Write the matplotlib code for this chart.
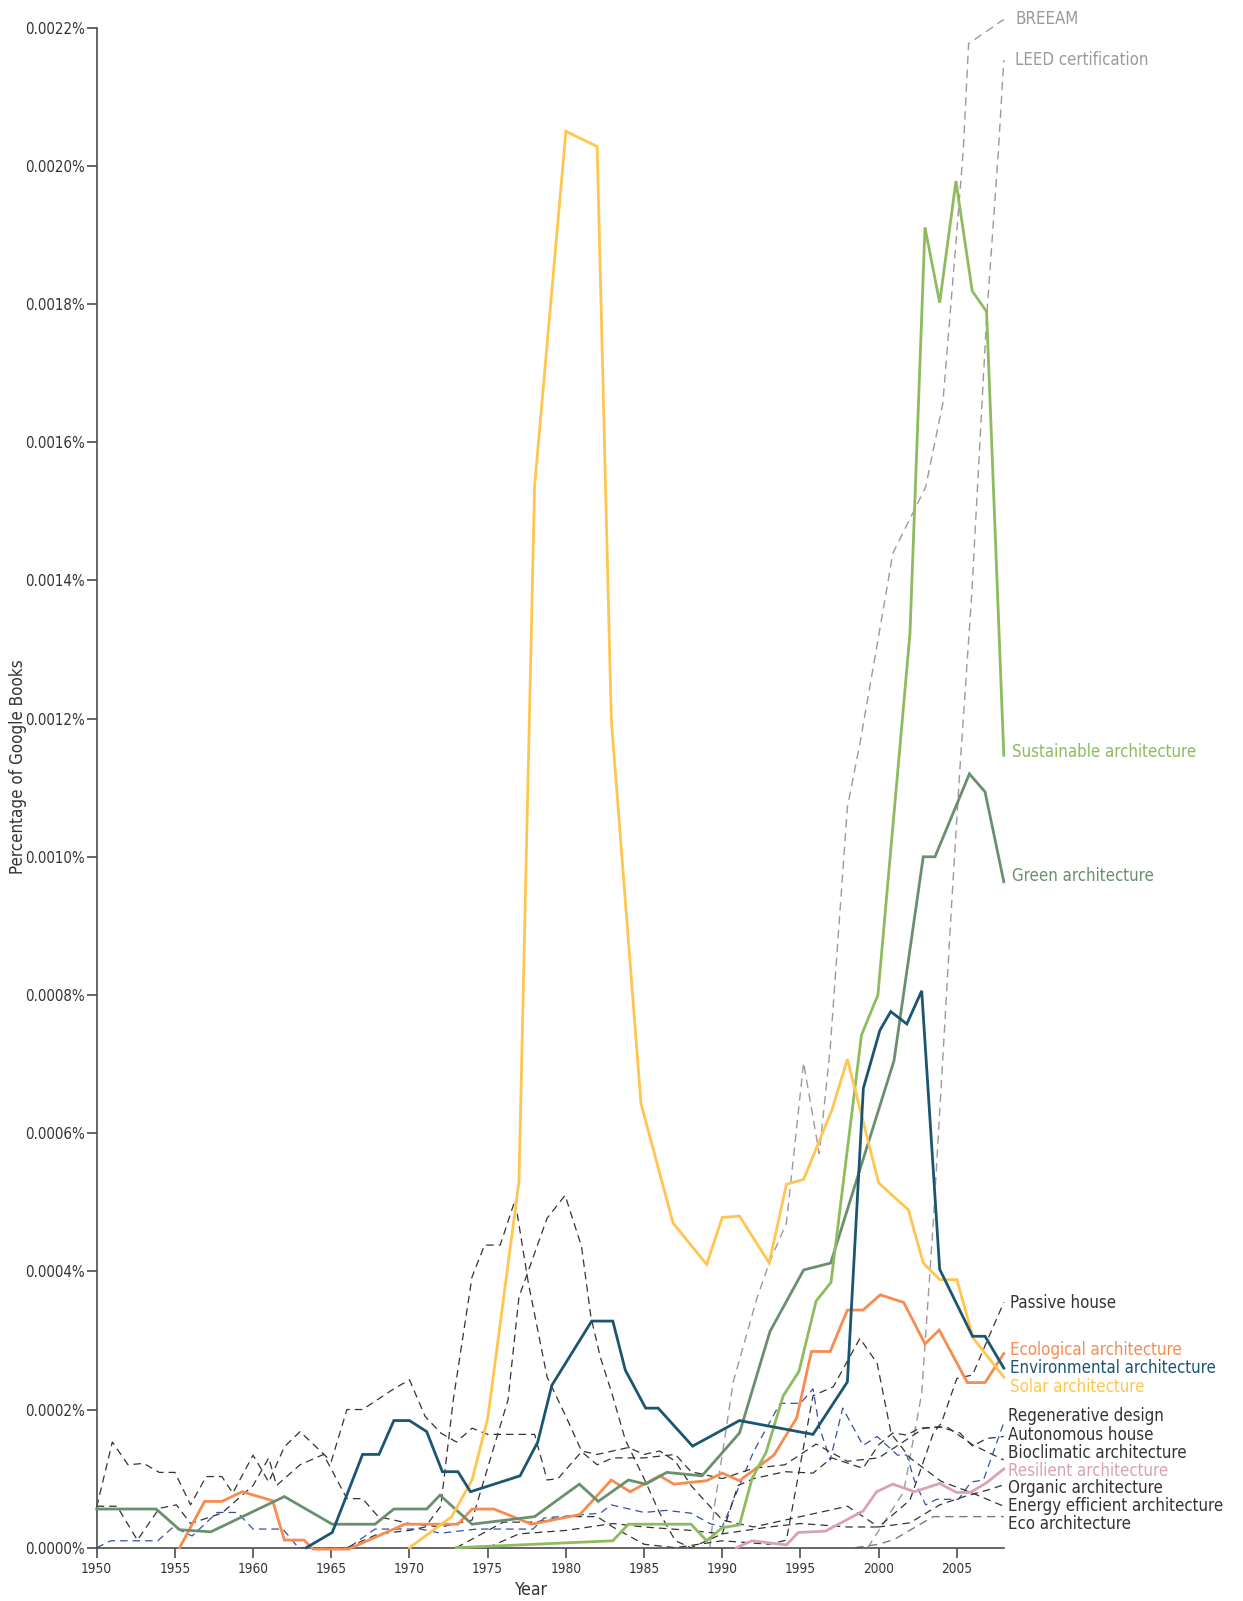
import matplotlib
matplotlib.use("Agg")
import matplotlib.pyplot as plt
from matplotlib import font_manager as fm

# ---- font choice: prefer an installed narrow / condensed sans face ----
def _is_regular(f):
    w = f.weight
    return (w in (400, "normal", "regular", "book")) and f.style == "normal"

def _is_narrow(f):
    n = f.name.lower()
    st = str(f.stretch).lower()
    return ("narrow" in n or "condensed" in n or st in ("condensed", "semi-condensed", "extra-condensed", "ultra-condensed")
            or st in ("300", "400", "200", "100"))

cands = [f for f in fm.fontManager.ttflist if _is_regular(f) and _is_narrow(f) and "mono" not in f.name.lower() and "serif" not in f.name.lower()]
cands.sort(key=lambda f: (0 if "sans" in f.name.lower() else 1, f.name))
if cands:
    FP = fm.FontProperties(fname=cands[0].fname)
else:
    FP = fm.FontProperties(family=["Roboto", "DejaVu Sans"])

# values in units of 1e-4 percent
solar_x = [1970, 1972.7, 1974, 1975, 1977, 1978, 1980, 1982, 1982.9, 1984.8, 1986.85, 1989, 1990, 1991.1, 1993, 1994.1, 1995.2, 1997, 1998, 2000, 2001.9, 2002.85, 2003.9, 2005, 2006.05, 2008]
solar_y = [0, 0.45, 0.98, 1.87, 5.3, 15.37, 20.5, 20.28, 12.0, 6.43, 4.7, 4.1, 4.78, 4.8, 4.12, 5.26, 5.33, 6.33, 7.07, 5.28, 4.89, 4.12, 3.88, 3.88, 3.03, 2.47]

sust_x = [1973, 1983, 1984, 1988, 1989, 1990, 1991.1, 1991.9, 1992.8, 1993.9, 1994.9, 1996.0, 1996.95, 1998.9, 1999.95, 2002.0, 2002.96, 2003.9, 2004.94, 2005.98, 2006.9, 2008]
sust_y = [0.0, 0.1, 0.34, 0.34, 0.1, 0.29, 0.33, 1.0, 1.38, 2.2, 2.55, 3.57, 3.84, 7.42, 8.0, 13.23, 19.11, 18.02, 19.78, 18.19, 17.89, 11.47]

green_x = [1950, 1953.8, 1955.3, 1957.3, 1962.0, 1965.06, 1967.8, 1969, 1971.1, 1971.95, 1974, 1978, 1980.86, 1982.07, 1984, 1985.1, 1986.45, 1988.7, 1991.1, 1993.05, 1995.2, 1996.93, 2000.98, 2002.85, 2003.6, 2005.8, 2006.8, 2008]
green_y = [0.56, 0.56, 0.26, 0.23, 0.74, 0.34, 0.34, 0.56, 0.56, 0.76, 0.34, 0.45, 0.92, 0.67, 0.98, 0.92, 1.09, 1.04, 1.66, 3.13, 4.02, 4.12, 7.05, 10.0, 10.0, 11.2, 10.94, 9.64]

env_x = [1963.4, 1965.06, 1967, 1968.05, 1969, 1970, 1971.1, 1972.1, 1973.1, 1973.9, 1977.07, 1978.2, 1979.1, 1981.65, 1983, 1983.8, 1985.1, 1985.9, 1988.1, 1991.1, 1995.8, 1998, 1999.02, 2000.08, 2000.77, 2001.8, 2002.75, 2003.9, 2006.0, 2006.8, 2008]
env_y = [0, 0.22, 1.35, 1.35, 1.84, 1.84, 1.68, 1.10, 1.10, 0.81, 1.04, 1.53, 2.35, 3.28, 3.28, 2.57, 2.02, 2.02, 1.47, 1.84, 1.64, 2.4, 6.65, 7.49, 7.76, 7.58, 8.06, 4.03, 3.06, 3.06, 2.6]

eco_x = [1955.3, 1956.9, 1958, 1959.3, 1961.25, 1962, 1963.25, 1963.85, 1966.1, 1969.7, 1973.1, 1974, 1975.4, 1977.8, 1980.9, 1982.9, 1984.1, 1986.0, 1986.9, 1989, 1990.0, 1991.1, 1993.3, 1994.76, 1995.7, 1996.9, 1998.0, 1999.0, 2000.1, 2001.6, 2002.96, 2003.87, 2005.67, 2006.8, 2008]
eco_y = [0, 0.67, 0.67, 0.81, 0.68, 0.11, 0.11, -0.02, -0.02, 0.34, 0.34, 0.56, 0.56, 0.34, 0.48, 0.98, 0.81, 1.04, 0.92, 0.97, 1.08, 0.97, 1.34, 1.88, 2.84, 2.84, 3.44, 3.44, 3.66, 3.55, 2.95, 3.15, 2.39, 2.39, 2.81]

res_x = [1990.9, 1991.9, 1994.1, 1994.86, 1996.6, 1999.0, 1999.87, 2000.9, 2002.3, 2003.9, 2004.97, 2005.85, 2006.9, 2008]
res_y = [0, 0.1, 0.04, 0.22, 0.24, 0.53, 0.81, 0.92, 0.81, 0.93, 0.8, 0.8, 0.94, 1.14]

breeam_x = [1989.2, 1989.5, 1990.7, 1992.2, 1993, 1994.1, 1995.2, 1996.2, 1996.9, 1998.0, 1998.8, 2000.4, 2000.9, 2003.0, 2004.1, 2004.9, 2005.4, 2005.75, 2008]
breeam_y = [0, 0.6, 2.4, 3.6, 4.12, 4.7, 7.02, 5.7, 7.23, 10.72, 11.64, 13.72, 14.39, 15.35, 16.56, 18.78, 20.2, 21.77, 22.12]

leed_x = [1999.3, 2001.6, 2002.75, 2003.5, 2004.13, 2004.66, 2005.2, 2005.95, 2006.9, 2007.65, 2008]
leed_y = [0, 0.81, 2.23, 4.74, 7.2, 9.3, 11.3, 13.8, 17.8, 20.2, 21.53]

regen_x = [1950, 1950.9, 1953.9, 1954.9, 1956.1, 1957.7, 1959, 1960, 1961.9, 1962.9, 1966.1, 1967.8, 1970.7, 1972, 1974.3, 1977.9, 1978.6, 1982.2, 1982.9, 1985, 1986.4, 1988, 1989.2, 1990, 1992, 1993.7, 1995, 1995.8, 1996.2, 1996.9, 1997.7, 1999, 1999.9, 2001.2, 2001.8, 2002.3, 2003, 2003.7, 2005.1, 2005.9, 2006.7, 2008]
regen_y = [0, 0.1, 0.1, 0.3, 0.17, 0.51, 0.51, 0.27, 0.27, 0, 0, 0.27, 0.27, 0.21, 0.27, 0.27, 0.43, 0.5, 0.62, 0.51, 0.54, 0.5, 0.35, 0.3, 1.39, 2.09, 2.09, 2.3, 1.75, 1.27, 2.02, 1.48, 1.61, 1.34, 1.34, 0.96, 0.62, 0.7, 0.7, 0.95, 0.98, 1.81]

passive_x = [1975, 1977, 1980, 1983, 1985, 1988, 1990, 1993, 1995, 1998, 2000, 2002, 2003.5, 2004, 2005, 2006, 2007, 2008]
passive_y = [0, 0.2, 0.25, 0.35, 0.3, 0.25, 0.2, 0.3, 0.35, 0.3, 0.3, 0.69, 1.66, 1.8, 2.45, 2.5, 3.03, 3.55]

auto_x = [1950, 1951.3, 1952.6, 1954, 1955.1, 1956, 1958, 1960, 1961, 1961.5, 1963, 1964.5, 1966, 1967, 1968, 1970, 1972, 1974, 1976.3, 1977, 1978.8, 1979.95, 1981, 1981.6, 1982.2, 1983, 1983.8, 1985, 1986, 1987, 1988, 1990, 1991, 1992, 1994, 1995.8, 1997, 1999, 2000, 2000.9, 2001.8, 2002.6, 2003.9, 2005.2, 2006, 2006.9, 2008]
auto_y = [0.6, 0.6, 0.11, 0.57, 0.62, 0.35, 0.5, 0.9, 1.3, 0.9, 1.2, 1.35, 0.71, 0.71, 0.45, 0.35, 0.3, 0.4, 2.14, 3.63, 4.77, 5.1, 4.36, 3.34, 2.76, 2.19, 1.56, 1.0, 0.5, 0.1, 0.0, 0.2, 0.9, 1.0, 1.1, 1.08, 1.3, 1.15, 1.49, 1.66, 1.63, 1.73, 1.75, 1.66, 1.47, 1.58, 1.61]

bio_x = [1950, 1951, 1952, 1953, 1954, 1955, 1956, 1957, 1958, 1958.7, 1960, 1961, 1962, 1963, 1965, 1966, 1967, 1969, 1970, 1971, 1972, 1973, 1974, 1975, 1978, 1978.8, 1979.5, 1981, 1982, 1983, 1985, 1987, 1988, 1990, 1992, 1994, 1996, 1998, 2000, 2002.9, 2004.35, 2006, 2008]
bio_y = [0.59, 1.53, 1.2, 1.22, 1.09, 1.09, 0.62, 1.03, 1.03, 0.79, 1.34, 0.95, 1.46, 1.68, 1.25, 2.0, 2.0, 2.3, 2.43, 1.9, 1.66, 1.53, 1.73, 1.64, 1.64, 0.98, 1.0, 1.39, 1.2, 1.3, 1.3, 1.35, 1.1, 1.0, 1.15, 1.2, 1.5, 1.25, 1.3, 1.73, 1.75, 1.49, 1.27]

organic_x = [1966, 1968, 1970, 1971, 1972, 1972.8, 1974, 1974.8, 1975.8, 1976.75, 1977.6, 1978.8, 1980, 1981, 1982, 1983, 1984, 1985, 1986, 1987, 1988, 1990, 1992, 1994, 1996, 1998, 2000, 2002, 2003.9, 2005.6, 2006.9, 2008]
organic_y = [0.0, 0.2, 0.25, 0.3, 0.6, 2.14, 3.92, 4.38, 4.38, 5.03, 3.83, 2.47, 1.9, 1.4, 1.35, 1.4, 1.45, 1.35, 1.4, 1.25, 0.9, 0.4, 0.3, 0.4, 0.5, 0.6, 0.3, 0.36, 0.62, 0.75, 0.83, 0.91]

energy_x = [1973, 1976, 1978, 1980, 1982, 1983, 1985, 1987, 1990, 1993, 1994.1, 1995.8, 1997.1, 1998.8, 1999.9, 2000.8, 2002, 2004, 2006, 2008]
energy_y = [0, 0.37, 0.37, 0.45, 0.45, 0.3, 0.05, 0, 0.1, 0.05, 0.11, 2.2, 2.33, 3.03, 2.67, 1.65, 1.3, 0.96, 0.79, 0.6]

ecoarch_x = [1998.5, 2000, 2001, 2002.2, 2003.5, 2008]
ecoarch_y = [0, 0.05, 0.12, 0.28, 0.45, 0.45]

yticks = [0, 2, 4, 6, 8, 10, 12, 14, 16, 18, 20, 22]
xticks = [1950, 1955, 1960, 1965, 1970, 1975, 1980, 1985, 1990, 1995, 2000, 2005]

W, H = 1243, 1601
fig = plt.figure(figsize=(W / 100, H / 100), dpi=100)
L, R, T, B = 96.7, 1003.8, 27.7, 1547.7
ax = fig.add_axes([L / W, 1 - B / H, (R - L) / W, (B - T) / H])
ax.set_xlim(1950, 2008)
ax.set_ylim(0, 22)

AX = "#4d4d4d"
TXT = "#333333"
dash_black = "#333333"
dash_grey = "#9a9a9a"

def dline(x, y, c, lw=0.9, z=2):
    ax.plot(x, y, color=c, lw=lw, dashes=(6, 4), zorder=z, clip_on=False)

dline(breeam_x, breeam_y, dash_grey, 1.0)
dline(leed_x, leed_y, dash_grey, 1.0)
dline(passive_x, passive_y, dash_black)
dline(regen_x, regen_y, "#3550a8")
dline(auto_x, auto_y, dash_black)
dline(bio_x, bio_y, dash_black)
dline(organic_x, organic_y, dash_black)
dline(energy_x, energy_y, dash_black)
dline(ecoarch_x, ecoarch_y, "#7a7a7a", 1.0)

C_SOLAR = "#FFC54F"
C_SUST = "#8DBB5E"
C_GREEN = "#6A8F6E"
C_ENV = "#1B5570"
C_ECO = "#F78B50"
C_RES = "#D8A3B1"

def sline(x, y, c):
    ax.plot(x, y, color=c, lw=2.0, zorder=3, solid_joinstyle="miter", clip_on=False)

sline(res_x, res_y, C_RES)
sline(eco_x, eco_y, C_ECO)
sline(green_x, green_y, C_GREEN)
sline(sust_x, sust_y, C_SUST)
sline(solar_x, solar_y, C_SOLAR)
sline(env_x, env_y, C_ENV)

for s in ["top", "right"]:
    ax.spines[s].set_visible(False)
for s in ["left", "bottom"]:
    ax.spines[s].set_color(AX)
    ax.spines[s].set_linewidth(1.2)

renderer = fig.canvas.get_renderer()

def fit_size(text, target_px, max_size):
    t = fig.text(0, 0, text, fontproperties=FP, fontsize=20)
    w = t.get_window_extent(renderer).width
    t.remove()
    return min(max_size, 20 * target_px / w)

tick_fs = fit_size("0.0022%", 60, 11)
xtick_fs = fit_size("1950", 31, 11)
lab_fs = fit_size("Energy efficient architecture", 214, 15)
ylab_fs = fit_size("Percentage of Google Books", 214, 15)
year_fs = fit_size("Year", 33, 16)

ax.set_yticks(yticks)
ax.set_yticklabels([f"{v/10000:.4f}%" for v in yticks])
ax.set_xticks(xticks)
ax.set_xticklabels([str(v) for v in xticks])
ax.tick_params(axis="both", colors=AX, labelcolor=TXT, length=7, width=1.2, direction="out")
ax.tick_params(axis="y", pad=1.5)
for lab in ax.get_yticklabels():
    lab.set_fontproperties(FP)
    lab.set_fontsize(tick_fs)
for lab in ax.get_xticklabels():
    lab.set_fontproperties(FP)
    lab.set_fontsize(xtick_fs)

fig.text(18 / W, 1 - 767 / H, "Percentage of Google Books", rotation=90, ha="center", va="center",
         fontproperties=FP, fontsize=ylab_fs, color=TXT)
fig.text(531 / W, 1 - 1590 / H, "Year", ha="center", va="center", fontproperties=FP, fontsize=year_fs, color=TXT)

labels = [
    ("BREEAM", 1015, 19, "#9a9a9a"),
    ("LEED certification", 1015, 60, "#9a9a9a"),
    ("Sustainable architecture", 1012, 752, C_SUST),
    ("Green architecture", 1012, 876, C_GREEN),
    ("Passive house", 1010, 1303, TXT),
    ("Ecological architecture", 1010, 1350, C_ECO),
    ("Environmental architecture", 1010, 1368, C_ENV),
    ("Solar architecture", 1010, 1387, C_SOLAR),
    ("Regenerative design", 1008, 1416, TXT),
    ("Autonomous house", 1008, 1435, TXT),
    ("Bioclimatic architecture", 1008, 1453, TXT),
    ("Resilient architecture", 1008, 1471, C_RES),
    ("Organic architecture", 1008, 1488, TXT),
    ("Energy efficient architecture", 1008, 1506, TXT),
    ("Eco architecture", 1008, 1524, TXT),
]
for t, px, py, c in labels:
    fig.text(px / W, 1 - py / H, t, color=c, fontproperties=FP, fontsize=lab_fs, ha="left", va="center")

fig.savefig("out.png", dpi=100)
